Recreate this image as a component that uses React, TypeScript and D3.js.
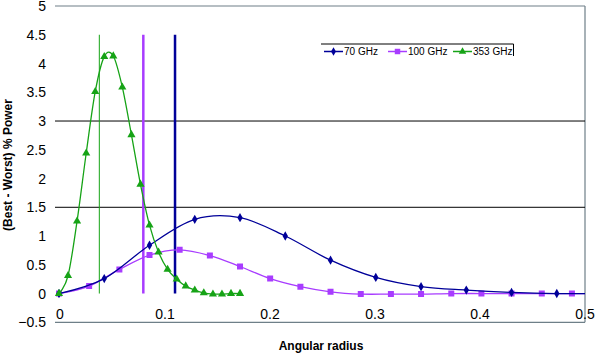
import * as d3 from "d3";
import React, { useEffect, useRef } from "react";

// angular radius / (best - worst) % power
const blueX = [0, 0.0431, 0.0862, 0.1293, 0.1724, 0.2155, 0.2586, 0.3017, 0.3448, 0.3879, 0.431, 0.4741, 0.5172];
const blueY = [0, 0.26, 0.84, 1.29, 1.32, 1.0, 0.58, 0.28, 0.12, 0.06, 0.02, 0, 0];

const purpleX = [0, 0.0287, 0.0575, 0.0862, 0.1149, 0.1437, 0.1724, 0.2011, 0.2299, 0.2586, 0.2874, 0.3161, 0.3448, 0.3736, 0.4023, 0.431, 0.4598, 0.4885, 0.5172];
const purpleY = [0, 0.13, 0.42, 0.67, 0.76, 0.66, 0.47, 0.26, 0.12, 0.03, -0.01, -0.01, -0.01, 0, 0, 0, 0, 0, 0];

const greenX = [0, 0.0086, 0.0172, 0.0259, 0.0345, 0.0431, 0.0517, 0.0603, 0.069, 0.0776, 0.0862, 0.0948, 0.1034, 0.1121, 0.1207, 0.1293, 0.1379, 0.1466, 0.1552, 0.1638, 0.1724];
const greenY = [0, 0.31, 1.26, 2.44, 3.51, 4.12, 4.13, 3.59, 2.76, 1.9, 1.19, 0.72, 0.42, 0.25, 0.13, 0.06, 0.01, -0.01, -0.01, 0, 0];

const seriesNames = ["70 GHz", "100 GHz", "353 GHz"];
const seriesColors = ["#000099", "#a83cff", "#16a316"];
const seriesShapes = ["diamond", "square", "triangle"];

// vertical markers (x) and horizontal reference levels (y)
const cutX = [0.0384, 0.0803, 0.1105];
const cutTop = 4.5;
const refLevels = [3, 1.5];

const xTicks = [0, 0.1, 0.2, 0.3, 0.4, 0.5];
const yTicks = [-0.5, 0, 0.5, 1, 1.5, 2, 2.5, 3, 3.5, 4, 4.5, 5];

const FONT = "Arial, 'Liberation Sans', sans-serif";

const App = () => {
  const ref = useRef(null);

  useEffect(() => {
    const root = d3.select(ref.current);
    root.selectAll("*").remove();

    const left = 55, right = 585, top = 6, bottom = 322.3;

    const x = d3.scaleLinear().domain([0, 0.5]).range([59, 584]);
    const y = d3.scaleLinear().domain([-0.5, 5]).range([bottom, top]);

    root.append("rect").attr("width", 596).attr("height", 354).attr("fill", "white");

    root.append("defs").append("clipPath").attr("id", "plotclip")
      .append("rect")
      .attr("x", left).attr("y", top - 5)
      .attr("width", right - left).attr("height", bottom - top + 10);

    // frame: top, right, bottom in slate grey
    const frame = "#6e7f88";
    root.append("line").attr("x1", left).attr("x2", right).attr("y1", y(5)).attr("y2", y(5))
      .attr("stroke", frame).attr("stroke-width", 1.2);
    root.append("line").attr("x1", left).attr("x2", right).attr("y1", y(-0.5)).attr("y2", y(-0.5))
      .attr("stroke", frame).attr("stroke-width", 1.2);
    root.append("line").attr("x1", right).attr("x2", right).attr("y1", y(5)).attr("y2", y(-0.5))
      .attr("stroke", frame).attr("stroke-width", 1.2);

    refLevels.forEach((v) => {
      root.append("line")
        .attr("x1", left).attr("x2", right)
        .attr("y1", y(v)).attr("y2", y(v))
        .attr("stroke", "black").attr("stroke-width", 1);
    });

    // y tick labels
    root.append("g").selectAll("text").data(yTicks).enter().append("text")
      .attr("x", 46).attr("y", (d) => y(d))
      .attr("dy", "0.36em")
      .attr("text-anchor", "end")
      .style("font-family", FONT).style("font-size", "14px")
      .text((d) => d3.format("")(d));

    // x tick labels sit above the bottom line
    root.append("g").selectAll("text").data(xTicks).enter().append("text")
      .attr("x", (d) => x(d) + 1)
      .attr("y", 319)
      .attr("text-anchor", "middle")
      .style("font-family", FONT).style("font-size", "14px")
      .text((d) => d3.format("")(d));

    // vertical lines
    const cutWidths = [1, 2.5, 2.5];
    cutX.forEach((v, i) => {
      root.append("line")
        .attr("x1", x(v)).attr("x2", x(v))
        .attr("y1", y(cutTop)).attr("y2", y(0))
        .attr("stroke", seriesColors[2 - i]).attr("stroke-width", cutWidths[i]);
    });

    const symbolFor = (shape, size) => {
      if (shape === "diamond") return d3.symbol().type(d3.symbolDiamond).size(size * 0.7)();
      if (shape === "square") return d3.symbol().type(d3.symbolSquare).size(size)();
      return d3.symbol().type(d3.symbolTriangle).size(size * 0.8)();
    };

    const allX = [blueX, purpleX, greenX];
    const allY = [blueY, purpleY, greenY];
    const lineWidths = [1.3, 1.3, 1.3];

    const plot = root.append("g").attr("clip-path", "url(#plotclip)");

    const line = d3.line()
      .x((d) => x(d[0]))
      .y((d) => y(d[1]))
      .curve(d3.curveCardinal.tension(0));

    [1, 0, 2].forEach((s) => {
      const pts = allX[s].map((v, i) => [v, allY[s][i]]);
      plot.append("path")
        .datum(pts)
        .attr("fill", "none")
        .attr("stroke", seriesColors[s])
        .attr("stroke-width", lineWidths[s])
        .attr("d", line);

      plot.selectAll(".m" + s)
        .data(pts.filter((p) => p[0] <= 0.5))
        .enter()
        .append("path")
        .attr("class", "m" + s)
        .attr("transform", (d) => "translate(" + x(d[0]) + "," + y(d[1]) + ")")
        .attr("d", symbolFor(seriesShapes[s], 36))
        .attr("fill", seriesColors[s]);
    });

    // legend
    const lg = root.append("g");
    lg.append("line").attr("x1", 321).attr("x2", 513.5).attr("y1", 44).attr("y2", 44)
      .attr("stroke", "black").attr("stroke-width", 1);
    lg.append("line").attr("x1", 513.5).attr("x2", 513.5).attr("y1", 44).attr("y2", 56)
      .attr("stroke", "black").attr("stroke-width", 1);

    const legX = [324, 388, 453];
    seriesNames.forEach((name, i) => {
      lg.append("line")
        .attr("x1", legX[i]).attr("x2", legX[i] + 19)
        .attr("y1", 51.5).attr("y2", 51.5)
        .attr("stroke", seriesColors[i]).attr("stroke-width", 1.5);
      lg.append("path")
        .attr("transform", "translate(" + (legX[i] + 9.5) + ",51.5)")
        .attr("d", symbolFor(seriesShapes[i], 30))
        .attr("fill", seriesColors[i]);
      lg.append("text")
        .attr("x", legX[i] + 20).attr("y", 55)
        .style("font-family", FONT).style("font-size", "10px")
        .text(name);
    });

    // axis titles
    root.append("text")
      .attr("transform", "translate(12,165) rotate(-90)")
      .attr("text-anchor", "middle")
      .style("font-family", FONT).style("font-size", "12px").style("font-weight", "bold")
      .text("(Best - Worst) % Power");

    root.append("text")
      .attr("x", 321).attr("y", 350)
      .attr("text-anchor", "middle")
      .style("font-family", FONT).style("font-size", "12px").style("font-weight", "bold")
      .text("Angular radius");
  }, []);

  return (
    <svg
      ref={ref}
      width={596}
      height={354}
      style={{ position: "absolute", left: 0, top: 0, display: "block" }}
    />
  );
};

export default App;
